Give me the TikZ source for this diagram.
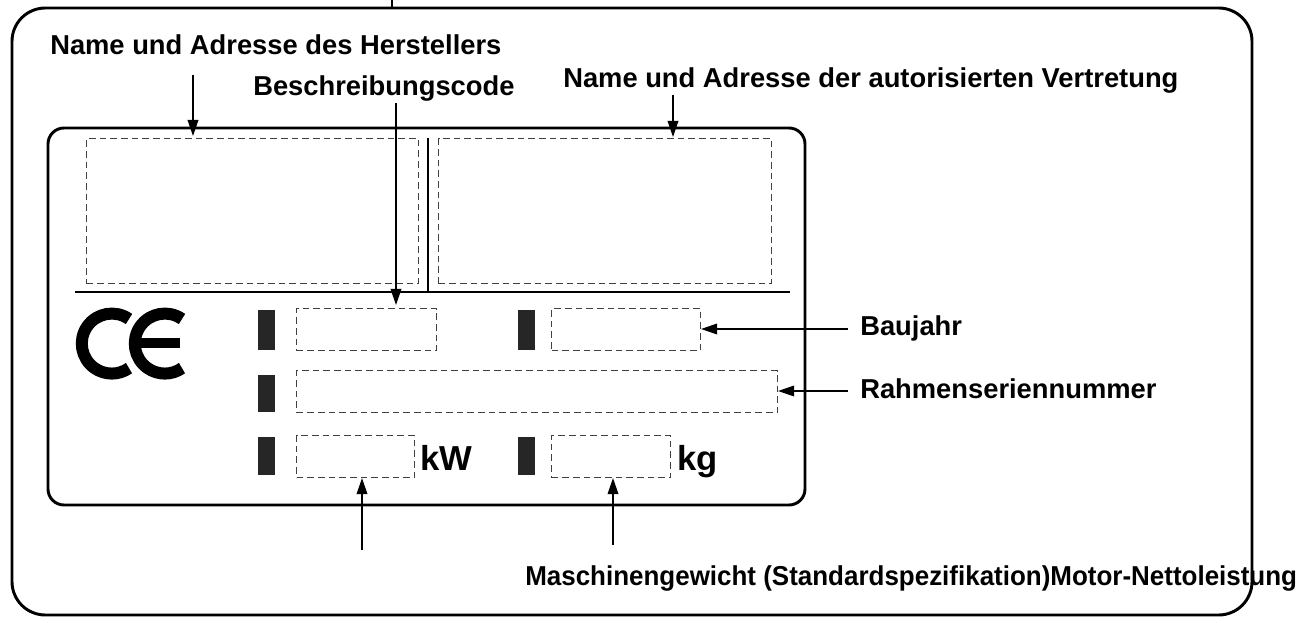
\documentclass[tikz,border=0pt]{standalone}
\usepackage{fontspec}
\setmainfont{Liberation Sans}
\usetikzlibrary{arrows.meta}
\begin{document}
\begin{tikzpicture}[x=0.75pt,y=-0.75pt,
  lbl/.style={font=\bfseries\fontsize{20.5}{24}\selectfont,inner sep=0pt},
  dbox/.style={draw=black!75,dashed,dash pattern=on 5pt off 3pt,line width=0.8pt},
  arr/.style={-{Triangle[length=12pt,width=8pt]},line width=1pt}]
\useasboundingbox (0,0) rectangle (1298,623);
\draw[line width=2.2pt,rounded corners=25pt] (12,8) rectangle (1252,615);
\draw[line width=1pt] (392,0) -- (392,8);
\draw[line width=2.2pt,rounded corners=12pt] (48,128) rectangle (805,505);
\node[dbox,minimum width=332*0.75pt,minimum height=145*0.75pt,anchor=north west] (man) at (86,138) {};
\node[dbox,minimum width=333*0.75pt,minimum height=145*0.75pt,anchor=north west] (rep) at (438,138) {};
\draw[line width=1.2pt] (428,138) -- (428,292);
\draw[line width=1.2pt] (75,292) -- (790,292);
% CE mark
\draw[line width=9pt] (129,319) arc[start angle=-55,end angle=-305,radius=30];
\draw[line width=9pt] (182,319) arc[start angle=-55,end angle=-305,radius=30];
\draw[line width=8pt] (140,343) -- (180,343);
% bars
\foreach \x/\y/\h in {258/310/40,258/375/37,258/437/38,518/310/40,518/437/38}
  \fill[black!85] (\x,\y) rectangle ++(17,\h);
\node[dbox,minimum width=140*0.75pt,minimum height=42*0.75pt,anchor=north west] (code) at (296,308) {};
\node[dbox,minimum width=149*0.75pt,minimum height=42*0.75pt,anchor=north west] (year) at (551,308) {};
\node[dbox,minimum width=481*0.75pt,minimum height=42*0.75pt,anchor=north west] (serial) at (296,370) {};
\node[dbox,minimum width=118*0.75pt,minimum height=42*0.75pt,anchor=north west] (kw) at (296,435) {};
\node[dbox,minimum width=119*0.75pt,minimum height=42*0.75pt,anchor=north west] (kg) at (551,435) {};
\node[font=\bfseries\fontsize{26}{30}\selectfont,anchor=base west,inner sep=0pt] (kwu) at (420,470) {kW};
\node[font=\bfseries\fontsize{26}{30}\selectfont,anchor=base west,inner sep=0pt] (kgu) at (677,470) {kg};
% labels
\node[lbl,anchor=west] (l1) at (50,45) {Name und Adresse des Herstellers};
\node[lbl,anchor=west] (l2) at (253,88) {Beschreibungscode};
\node[lbl,anchor=west] (l3) at (563,80) {Name und Adresse der autorisierten Vertretung};
\node[lbl,anchor=west] (l4) at (860,328) {Baujahr};
\node[lbl,anchor=west] (l5) at (860,389) {Rahmenseriennummer};
\node[lbl,anchor=west,xscale=0.95] (l6) at (525,578) {Maschinengewicht (Standardspezifikation)Motor-Nettoleistung};
\coordinate (s1) at (193,75);
\coordinate (s2) at (396,103);
\coordinate (s3) at (673,95);
\coordinate (s4) at (848,329);
\coordinate (s5) at (848,391);
\coordinate (s6) at (362,550);
\coordinate (s7) at (613,545);
\draw[arr] (s1) -- (193,136);
\draw[arr] (s2) -- (396,305);
\draw[arr] (s3) -- (673,137);
\draw[arr] (s4) -- (s4 -| year.east);
\draw[arr] (s5) -- (s5 -| serial.east);
\draw[arr] (s6) -- (kw.south -| s6);
\draw[arr] (s7) -- (kg.south -| s7);
\end{tikzpicture}
\end{document}
